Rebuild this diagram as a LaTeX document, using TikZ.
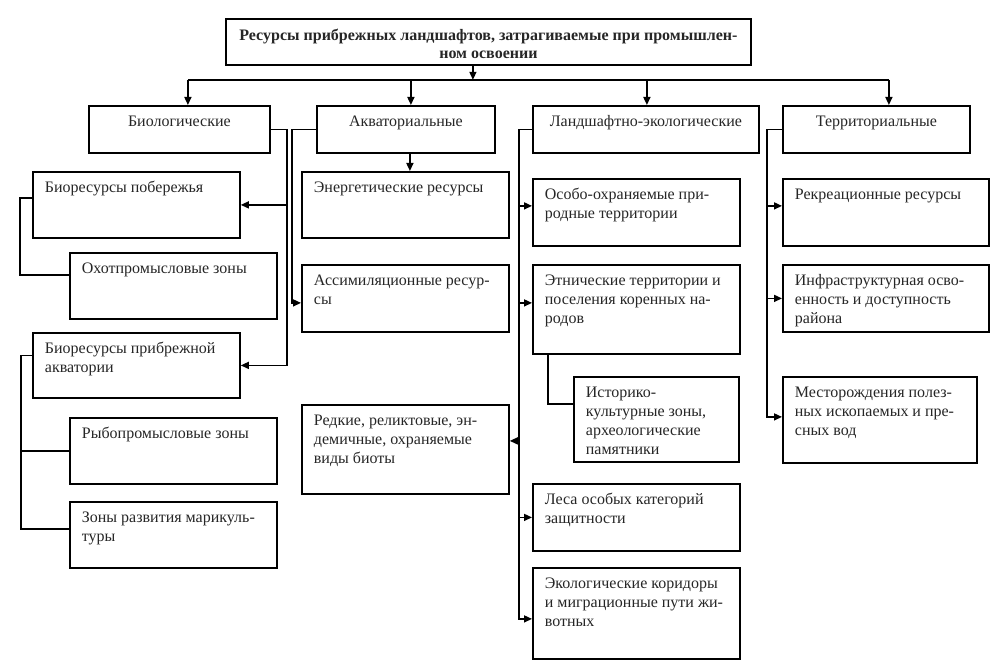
\documentclass[tikz,border=0pt]{standalone}
\usepackage{fontspec}
\setmainfont{Liberation Serif}
\usetikzlibrary{arrows.meta,calc}
\tikzset{
 box/.style={draw=black, line width=1.8pt, rectangle, text=black!85, font=\fontsize{16}{19}\selectfont, anchor=north west, inner xsep=12pt, inner ysep=7pt},
 conn/.style={draw=black, line width=1.5pt},
 arr/.style={conn, -{Triangle[length=8pt,width=7pt]}},
}
\newcommand\mybox[7][l]{%
 \node[box] (#2) at (#3,#4) {\parbox[t][\dimexpr #6pt-#4pt-14pt\relax][t]{\dimexpr #5pt-#3pt-24pt\relax}{\ifx l#1\raggedright\else\centering\fi\begin{tabular}[t]{@{}#1@{}}#7\end{tabular}}};}
\begin{document}
\begin{tikzpicture}[x=1pt,y=-1pt]
\fill[white] (0,0) rectangle (1003,663);
\useasboundingbox (0,0) rectangle (1003,663);
% title
\node[box, font=\bfseries\fontsize{16}{18}\selectfont, inner ysep=9pt, inner xsep=8pt] (title) at (225,18)
 {\parbox[t][\dimexpr 46pt-18pt\relax][t]{\dimexpr 525pt-16pt\relax}{\centering\begin{tabular}[t]{@{}c@{}}Ресурсы прибрежных ландшафтов, затрагиваемые при промышлен-\\ном освоении\end{tabular}}};
% categories
\mybox[c]{bio}{88}{105}{269}{152}{Биологические}
\mybox[c]{akv}{316}{105}{494}{152}{Акваториальные}
\mybox[c]{le}{532}{105}{758}{152}{Ландшафтно-экологические}
\mybox[c]{tr}{782}{105}{969}{152}{Территориальные}
% biological
\mybox{bp}{32}{171}{239}{237}{Биоресурсы побережья}
\mybox{oh}{69}{252}{276}{318}{Охотпромысловые зоны}
\mybox{bpa}{32}{332}{239}{397}{Биоресурсы прибрежной\\акватории}
\mybox{ryb}{69}{417}{276}{483}{Рыбопромысловые зоны}
\mybox{zr}{69}{501}{276}{567}{Зоны развития марикуль-\\туры}
% aquatorial
\mybox{en}{301}{171}{508}{237}{Энергетические ресурсы}
\mybox{ass}{301}{264}{508}{331}{Ассимиляционные ресур-\\сы}
\mybox{rare}{301}{404}{508}{493}{Редкие, реликтовые, эн-\\демичные, охраняемые\\виды биоты}
% landscape-ecological
\mybox{oo}{532}{178}{739}{245}{Особо-охраняемые при-\\родные территории}
\mybox{et}{532}{264}{739}{353}{Этнические территории и\\поселения коренных на-\\родов}
\mybox{hist}{573}{376}{738}{461}{Историко-\\культурные зоны,\\археологические\\памятники}
\mybox{les}{532}{483}{739}{550}{Леса особых категорий\\защитности}
\mybox{eco}{532}{567}{739}{658}{Экологические коридоры\\и миграционные пути жи-\\вотных}
% territorial
\mybox{rec}{782}{178}{988}{245}{Рекреационные ресурсы}
\mybox{inf}{782}{264}{988}{331}{Инфраструктурная осво-\\енность и доступность\\района}
\mybox{mes}{782}{376}{976}{462}{Месторождения полез-\\ных ископаемых и пре-\\сных вод}
% top connectors
\path ([xshift=-15.5pt]title.south) coordinate (tS)
      ([xshift=-15.5pt,yshift=-14pt]title.south) coordinate (tA)
      ([xshift=8.5pt]bio.north) coordinate (bioT)
      ([xshift=5pt]akv.north) coordinate (akvT)
      ([xshift=1pt]le.north) coordinate (leT)
      ([xshift=12.5pt]tr.north) coordinate (trT);
\draw[arr] (tS) -- (tA);
\draw[conn] (bioT |- tA) -- (trT |- tA);
\draw[arr] (bioT |- tA) -- (bioT);
\draw[arr] (akvT |- tA) -- (akvT);
\draw[arr] (leT |- tA) -- (leT);
\draw[arr] (trT |- tA) -- (trT);
% biological connectors
\draw[arr] (bio.east) -- ++(16,0) coordinate (bioX) |- (bpa.east);
\draw[arr] (bioX |- bp.east) -- (bp.east);
\draw[conn] ([yshift=7pt]bp.west) -- ++(-12,0) |- ([yshift=11pt]oh.west);
\draw[conn] ([yshift=10pt]bpa.west) -- ++(-11,0) coordinate (bpaL) |- ([yshift=6pt]zr.west);
\draw[conn] (bpaL |- ryb.west) -- (ryb.west);
% aquatorial connectors
\path ([xshift=4pt]akv.south) coordinate (akvS);
\draw[arr] (akvS) -- (akvS |- en.north);
\draw[arr] (akv.west) -- ++(-24,0) |- ([yshift=-4.5pt]ass.west);
% landscape-ecological connectors
\path ([yshift=6.5pt]oo.west) coordinate (ooA)
      ([yshift=6.5pt]et.west) coordinate (etA)
      ([yshift=8.5pt]rare.east) coordinate (rareA)
      (les.west) coordinate (lesA)
      ([xshift=16pt]et.south west) coordinate (etB);
\draw[arr] (le.west) -- ++(-13,0) coordinate (leX) |- ([yshift=-5.5pt]eco.west);
\draw[arr] (leX |- ooA) -- (ooA);
\draw[arr] (leX |- etA) -- (etA);
\draw[arr] (leX |- rareA) -- (rareA);
\draw[arr] (leX |- lesA) -- (lesA);
\draw[conn] (etB) |- ([yshift=15.5pt]hist.west);
% territorial connectors
\path ([yshift=6.5pt]rec.west) coordinate (recA)
      (inf.west) coordinate (infA);
\draw[arr] (tr.west) -- ++(-15,0) coordinate (trX) |- ([yshift=3pt]mes.west);
\draw[arr] (trX |- recA) -- (recA);
\draw[arr] (trX |- infA) -- (infA);
\end{tikzpicture}
\end{document}
